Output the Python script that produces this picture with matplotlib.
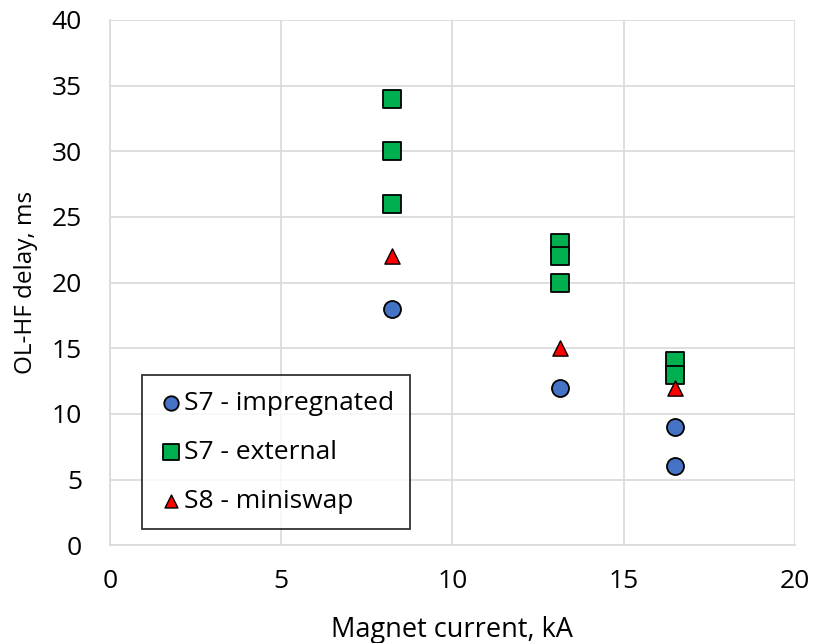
import matplotlib.pyplot as plt

plt.rcParams['font.family'] = ['Open Sans', 'DejaVu Sans']

# OL-HF delay vs. magnet current
imp_current = [8.25, 13.15, 16.5, 16.5]
imp_delay = [18, 12, 9, 6]

ext_current = [8.25, 8.25, 8.25, 13.15, 13.15, 13.15, 16.5, 16.5]
ext_delay = [34, 30, 26, 23, 22, 20, 14, 13]

mini_current = [8.25, 13.15, 16.5]
mini_delay = [22, 15, 12]

fig, ax = plt.subplots(figsize=(8.13, 6.43), dpi=100)
fig.subplots_adjust(left=0.135, right=0.978, top=0.969, bottom=0.152)

ax.scatter(imp_current, imp_delay, marker='o', s=150, c='#4472C4',
           edgecolors='black', linewidths=1.3, label='S7 - impregnated', zorder=3)
ax.scatter(ext_current, ext_delay, marker='s', s=170, c='#00B050',
           edgecolors='black', linewidths=1.3, label='S7 - external', zorder=3)
ax.scatter(mini_current, mini_delay, marker='^', s=120, c='#FF0000',
           edgecolors='black', linewidths=1.0, label='S8 - miniswap', zorder=4)

ax.set_xlim(0, 20)
ax.set_ylim(0, 40)
ax.set_xticks(range(0, 21, 5))
ax.set_yticks(range(0, 41, 5))
ax.grid(True, color='#D9D9D9', linewidth=1.2)
ax.set_axisbelow(True)
for side in ['top', 'right']:
    ax.spines[side].set_visible(False)
for side in ['left', 'bottom']:
    ax.spines[side].set_color('#D9D9D9')
    ax.spines[side].set_linewidth(1.2)
ax.tick_params(length=0, labelsize=19, colors='black')
ax.tick_params(axis='y', pad=20)
ax.tick_params(axis='x', pad=17)

ax.set_xlabel('Magnet current, kA', fontsize=19.5, labelpad=16)
ax.set_ylabel('OL-HF delay, ms', fontsize=17.5, labelpad=10)

leg = ax.legend(loc='lower left', bbox_to_anchor=(0.035, 0.015), fontsize=19,
                frameon=True, fancybox=False, edgecolor='black',
                handletextpad=0.0, handlelength=1.0, borderpad=0.6,
                labelspacing=0.9, markerscale=0.85, borderaxespad=0.3)
leg.get_frame().set_linewidth(1.3)

fig.savefig('out.png', dpi=100)
